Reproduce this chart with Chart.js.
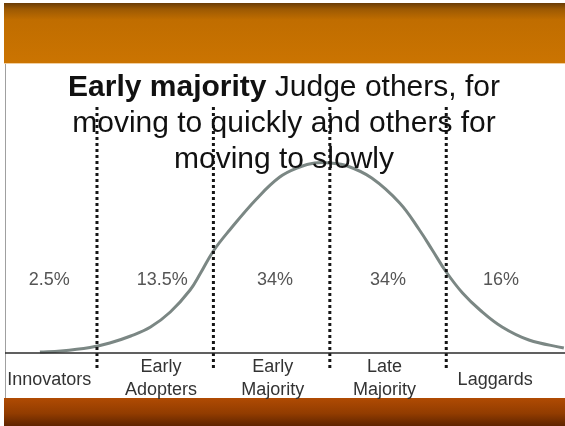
<!DOCTYPE html>
<html>
<head>
<meta charset="utf-8">
<script src="https://cdn.jsdelivr.net/npm/chart.js@4.4.1/dist/chart.umd.min.js"></script>
<style>
  html, body { margin: 0; padding: 0; }
  body {
    width: 565px; height: 426px; position: relative; overflow: hidden;
    background: #fff; font-family: "Liberation Sans", Arial, sans-serif;
  }
  .band-top {
    position: absolute; left: 4px; right: 0; top: 3px; height: 60px;
    background: linear-gradient(#6a3c06 0%, #9c5903 10%, #c06d00 28%, #cb7401 100%);
    border-bottom: 1px solid #f2cf9f;
  }
  .band-bottom {
    position: absolute; left: 4px; right: 0; top: 398px; bottom: 0;
    background: linear-gradient(#b04b03 0%, #923c00 55%, #5f2400 100%);
  }
  .frame { position: absolute; left: 5px; top: 64px; width: 1px; height: 334px; background: #a0a0a0; }
  #chart { position: absolute; left: 0; top: 0; }
  #title {
    position: absolute; left: 0; top: 68px; width: 568px; text-align: center;
    font-size: 30px; line-height: 36px; color: #111; z-index: 2;
  }
</style>
</head>
<body>
<div class="band-top"></div>
<div class="frame"></div>
<div class="band-bottom"></div>
<canvas id="chart" width="565" height="426"></canvas>
<div id="title"><b>Early majority</b> Judge others, for<br>moving to quickly and others for<br>moving to slowly</div>
<script>
// adoption curve, x in standard deviations from the mean
const curveX = [-2.49, -2.31, -2.06, -1.89, -1.71, -1.54, -1.37, -1.2, -1.11, -1.0, -0.86, -0.63, -0.43,
  -0.26, -0.13, 0, 0.15, 0.36, 0.6, 0.77, 0.88, 1.0, 1.14, 1.29, 1.48, 1.71, 2.01];
const curveY = [1, 2, 5.5, 10, 17, 26, 41, 63, 80, 102, 123, 154, 176,
  186, 190, 190, 187, 175, 150, 123, 103, 81, 60, 43, 26, 13, 5];

const cutoffs = [-2, -1, 0, 1];
const segments = [["Innovators"], ["Early", "Adopters"], ["Early", "Majority"], ["Late", "Majority"], ["Laggards"]];
const shares = ["2.5%", "13.5%", "34%", "34%", "16%"];

// where the texts sit (axis units)
const shareX = [-2.41, -1.44, -0.47, 0.5, 1.47];
const segmentX = [-2.41, -1.45, -0.49, 0.47, 1.42];
const shareY = 73;

const X_MIN = -2.79;
const X_MAX = 2.02;
const Y_MIN = -15;
const Y_MAX = 248;

const curvePoints = curveX.map((x, i) => ({ x, y: curveY[i] }));

const cutoffSets = cutoffs.map((c) => ({
  data: [{ x: c, y: Y_MIN }, { x: c, y: Y_MAX }],
  showLine: true,
  borderColor: "#151515",
  borderWidth: 3,
  borderDash: [3, 3],
  borderCapStyle: "butt",
  pointRadius: 0,
}));

const textPlugin = {
  id: "curveTexts",
  afterDatasetsDraw(chart) {
    const { ctx, scales } = chart;
    const xs = scales.x;
    const ys = scales.y;
    ctx.save();
    ctx.textAlign = "center";
    ctx.textBaseline = "middle";

    ctx.font = '18px "Liberation Sans", Arial, sans-serif';
    ctx.fillStyle = "#555";
    shares.forEach((s, i) => {
      ctx.fillText(s, xs.getPixelForValue(shareX[i]), ys.getPixelForValue(shareY));
    });

    ctx.fillStyle = "#333";
    const base = ys.getPixelForValue(0);
    segments.forEach((lines, i) => {
      const x = xs.getPixelForValue(segmentX[i]);
      if (lines.length === 1) {
        ctx.fillText(lines[0], x, base + 27);
      } else {
        ctx.fillText(lines[0], x, base + 14);
        ctx.fillText(lines[1], x, base + 37);
      }
    });
    ctx.restore();
  },
};

new Chart(document.getElementById("chart"), {
  type: "scatter",
  data: {
    datasets: [
      {
        data: [{ x: X_MIN, y: 0 }, { x: X_MAX, y: 0 }],
        showLine: true,
        borderColor: "#2b2b2b",
        borderWidth: 1.5,
        pointRadius: 0,
      },
      ...cutoffSets,
      {
        data: curvePoints,
        showLine: true,
        borderColor: "#7b8784",
        borderWidth: 3,
        pointRadius: 0,
        tension: 0.4,
      },
    ],
  },
  options: {
    responsive: false,
    animation: false,
    layout: { padding: { left: 5, right: 0, top: 105, bottom: 58 } },
    plugins: { legend: { display: false }, tooltip: { enabled: false } },
    scales: {
      x: { type: "linear", min: X_MIN, max: X_MAX, display: false },
      y: { min: Y_MIN, max: Y_MAX, display: false },
    },
  },
  plugins: [textPlugin],
});
</script>
</body>
</html>
